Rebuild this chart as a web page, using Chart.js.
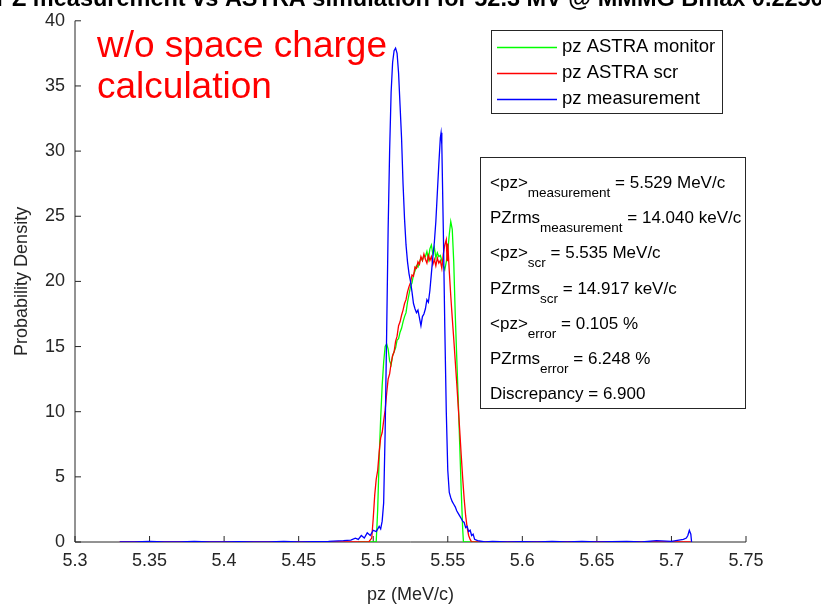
<!DOCTYPE html>
<html>
<head>
<meta charset="utf-8">
<script src="https://cdn.jsdelivr.net/npm/chart.js@4"></script>
<style>
  body { margin: 0; background: #fff; }
  canvas { display: block; }
</style>
</head>
<body>
<canvas id="chartPz" width="821" height="610"></canvas>
<script>
// data
const xTicks = [5.3, 5.35, 5.4, 5.45, 5.5, 5.55, 5.6, 5.65, 5.7, 5.75];
const xTickLabels = ["5.3", "5.35", "5.4", "5.45", "5.5", "5.55", "5.6", "5.65", "5.7", "5.75"];
const yTicks = [0, 5, 10, 15, 20, 25, 30, 35, 40];
const yTickLabels = ["0", "5", "10", "15", "20", "25", "30", "35", "40"];

const pzMonitor = [5.490, 5.500, 5.502, 5.503, 5.504, 5.505, 5.506, 5.507, 5.508, 5.509, 5.510,
  5.511, 5.512, 5.513, 5.514, 5.515, 5.516, 5.517, 5.518, 5.519, 5.520, 5.521, 5.522, 5.523,
  5.524, 5.525, 5.526, 5.527, 5.528, 5.529, 5.530, 5.531, 5.532, 5.533, 5.534, 5.535, 5.536,
  5.537, 5.538, 5.539, 5.540, 5.541, 5.542, 5.543, 5.544, 5.545, 5.546, 5.547, 5.548, 5.549,
  5.550, 5.551, 5.552, 5.553, 5.554, 5.555, 5.556, 5.557, 5.558, 5.559, 5.560, 5.5605, 5.570];
const pdMonitor = [0, 0, 0, 2.5, 6.5, 9.5, 12.0, 13.8, 15.0, 15.2, 14.8,
  13.9, 13.6, 14.3, 14.6, 14.9, 15.5, 15.6, 16.1, 16.4, 16.9, 17.3, 17.6, 18.4,
  19.0, 19.6, 19.9, 20.5, 20.8, 21.2, 21.1, 21.5, 21.8, 21.6, 22.0, 21.9, 22.3,
  21.7, 22.5, 22.8, 22.1, 22.6, 21.8, 22.2, 21.9, 22.0, 21.6, 21.2, 20.9, 21.5,
  22.3, 23.6, 24.6, 24.0, 21.5, 17.5, 14.2, 11.0, 7.5, 4.0, 1.0, 0, 0];

const pzScr = [5.330, 5.400, 5.450, 5.490, 5.497, 5.499, 5.500, 5.501, 5.502, 5.503, 5.504,
  5.505, 5.506, 5.507, 5.508, 5.509, 5.510, 5.511, 5.512, 5.513, 5.514, 5.515, 5.516, 5.517,
  5.518, 5.519, 5.520, 5.521, 5.522, 5.523, 5.524, 5.525, 5.526, 5.527, 5.528, 5.529, 5.530,
  5.531, 5.532, 5.533, 5.534, 5.535, 5.536, 5.537, 5.538, 5.539, 5.540, 5.541, 5.542, 5.543,
  5.544, 5.545, 5.546, 5.547, 5.548, 5.549, 5.5495, 5.550, 5.551, 5.552, 5.553, 5.554, 5.555,
  5.556, 5.557, 5.558, 5.559, 5.560, 5.561, 5.562, 5.563, 5.564, 5.565, 5.566, 5.600, 5.650,
  5.700, 5.713];
const pdScr = [0, 0, 0, 0, 0, 0.3, 1.8, 3.6, 4.8, 5.5, 6.9,
  8.0, 8.4, 9.3, 10.1, 11.4, 12.5, 12.9, 13.7, 14.3, 14.6, 15.4, 15.8, 16.6,
  16.9, 17.4, 17.8, 18.3, 18.6, 19.2, 19.6, 19.9, 20.5, 20.4, 21.1, 21.0, 21.5,
  21.3, 21.9, 21.6, 22.1, 21.7, 21.4, 22.0, 21.6, 21.9, 21.3, 21.7, 21.2, 21.8,
  21.4, 21.6, 21.0, 22.1, 22.8, 23.2, 21.6, 22.9, 20.8, 18.9, 17.2, 15.6, 13.9,
  12.2, 10.4, 8.6, 6.7, 4.9, 3.3, 2.0, 1.1, 0.5, 0.2, 0, 0, 0.03,
  0, 0];

const pzMeas = [5.330, 5.340, 5.350, 5.360, 5.370, 5.380, 5.390, 5.400, 5.410, 5.420, 5.430,
  5.440, 5.450, 5.460, 5.470, 5.480, 5.485, 5.488, 5.490, 5.492, 5.494, 5.496, 5.498, 5.500,
  5.502, 5.504, 5.505, 5.506, 5.507, 5.508, 5.509, 5.510, 5.511, 5.512, 5.513, 5.514, 5.515,
  5.516, 5.517, 5.518, 5.519, 5.520, 5.521, 5.522, 5.523, 5.524, 5.525, 5.526, 5.527, 5.528,
  5.529, 5.530, 5.531, 5.532, 5.533, 5.534, 5.535, 5.536, 5.537, 5.538, 5.539, 5.540, 5.541,
  5.542, 5.543, 5.544, 5.545, 5.5455, 5.546, 5.547, 5.548, 5.549, 5.550, 5.551, 5.552, 5.553,
  5.554, 5.555, 5.556, 5.557, 5.558, 5.559, 5.560, 5.561, 5.562, 5.563, 5.564, 5.565, 5.566,
  5.567, 5.568, 5.570, 5.575, 5.580, 5.590, 5.600, 5.610, 5.620, 5.630, 5.640, 5.650, 5.660,
  5.670, 5.680, 5.690, 5.700, 5.705, 5.708, 5.710, 5.711, 5.712, 5.713, 5.7135];
const pdMeas = [0, 0, 0.05, 0, 0, 0.04, 0, 0, 0.03, 0, 0,
  0.05, 0, 0.03, 0.05, 0.1, 0.15, 0.3, 0.2, 0.5, 0.3, 0.7, 0.5, 0.9,
  0.8, 1.2, 1.0, 1.6, 3.0, 8.5, 16.0, 24.0, 30.0, 34.5, 36.8, 37.7, 37.9,
  37.5, 36.0, 33.5, 31.0, 27.5, 24.8, 22.8, 21.5, 20.6, 20.0, 19.2, 18.3, 17.9,
  17.6, 17.8, 17.2, 16.6, 17.3, 17.5, 17.9, 18.6, 18.4, 19.3, 20.6, 21.9, 23.0,
  24.6, 26.8, 29.0, 31.0, 31.4, 30.5, 24.0, 16.5, 10.0, 5.5, 3.8, 3.4, 3.1,
  2.9, 2.7, 2.4, 2.2, 2.0, 1.8, 1.6, 1.5, 1.1, 1.2, 0.8, 0.9, 0.5,
  0.6, 0.2, 0.1, 0, 0.05, 0, 0.03, 0, 0.04, 0, 0.05, 0, 0.03,
  0.05, 0, 0.1, 0.05, 0.15, 0.2, 0.3, 0.5, 0.9, 0.6, 0];

const seriesNames = ["pz ASTRA monitor", "pz ASTRA scr", "pz measurement"];
const seriesColors = ["#00ff00", "#ff0000", "#0000ff"];

const statsRows = [
  ["<pz>", "measurement", " = 5.529 MeV/c"],
  ["PZrms", "measurement", " = 14.040 keV/c"],
  ["<pz>", "scr", " = 5.535 MeV/c"],
  ["PZrms", "scr", " = 14.917 keV/c"],
  ["<pz>", "error", " = 0.105 %"],
  ["PZrms", "error", " = 6.248 %"],
  ["Discrepancy = 6.900", "", ""]
];

const FONT = "'Liberation Sans', Arial, Helvetica, sans-serif";
const AXIS = "#262626";

function toPoints(xs, ys) {
  return xs.map((x, i) => ({ x: x, y: ys[i] }));
}

// axes, inward ticks, legend box, stats box, annotation
const decor = {
  id: "decor",
  beforeDatasetsDraw(chart) {
    const ctx = chart.ctx;
    const xs = chart.scales.x, ys = chart.scales.y;
    const a = chart.chartArea;
    ctx.save();
    ctx.strokeStyle = AXIS;
    ctx.lineWidth = 1;
    ctx.beginPath();
    ctx.moveTo(a.left, a.bottom);
    ctx.lineTo(a.right, a.bottom);
    ctx.moveTo(a.left, a.bottom);
    ctx.lineTo(a.left, a.top);
    xTicks.forEach(v => {
      const px = xs.getPixelForValue(v);
      ctx.moveTo(px, a.bottom);
      ctx.lineTo(px, a.bottom - 6);
    });
    yTicks.forEach(v => {
      const py = ys.getPixelForValue(v);
      ctx.moveTo(a.left, py);
      ctx.lineTo(a.left + 6, py);
    });
    ctx.stroke();
    ctx.restore();
  },
  afterDatasetsDraw(chart) {
    const ctx = chart.ctx;
    const a = chart.chartArea;
    ctx.save();

    // title (cut at the top edge)
    ctx.fillStyle = "#000";
    ctx.font = "bold 23.5px " + FONT;
    ctx.textAlign = "center";
    ctx.textBaseline = "alphabetic";
    ctx.fillText("PZ measurement vs ASTRA simulation for 52.3 MV @ MMMG Bmax 0.2250", 410, 6);

    // axis titles
    ctx.fillStyle = AXIS;
    ctx.font = "18px " + FONT;
    ctx.textBaseline = "middle";
    ctx.fillText("pz (MeV/c)", (a.left + a.right) / 2, 595);
    ctx.save();
    ctx.translate(22, (a.top + a.bottom) / 2);
    ctx.rotate(-Math.PI / 2);
    ctx.fillText("Probability Density", 0, 0);
    ctx.restore();

    // red annotation
    ctx.fillStyle = "#ff0000";
    ctx.font = "37px " + FONT;
    ctx.textAlign = "left";
    ctx.textBaseline = "alphabetic";
    ctx.fillText("w/o space charge", 97, 57);
    ctx.fillText("calculation", 97, 98);

    // legend
    ctx.fillStyle = "#fff";
    ctx.fillRect(491, 30, 231, 83);
    ctx.strokeStyle = "#262626";
    ctx.lineWidth = 1;
    ctx.strokeRect(491.5, 30.5, 231, 83);
    ctx.font = "18.5px " + FONT;
    ctx.textBaseline = "middle";
    seriesNames.forEach((name, i) => {
      const y = 47 + i * 26;
      ctx.strokeStyle = seriesColors[i];
      ctx.lineWidth = 1.5;
      ctx.beginPath();
      ctx.moveTo(497, y + 0.5);
      ctx.lineTo(557, y + 0.5);
      ctx.stroke();
      ctx.fillStyle = "#000";
      ctx.fillText(name, 562, y);
    });

    // stats box
    ctx.fillStyle = "#fff";
    ctx.fillRect(480, 157, 265, 251);
    ctx.strokeStyle = "#262626";
    ctx.lineWidth = 1;
    ctx.strokeRect(480.5, 157.5, 265, 251);
    ctx.textBaseline = "alphabetic";
    statsRows.forEach((row, i) => {
      const base = 188 + i * 35.2;
      let x = 490;
      ctx.fillStyle = "#000";
      ctx.font = "17px " + FONT;
      ctx.fillText(row[0], x, base);
      x += ctx.measureText(row[0]).width;
      if (row[1]) {
        ctx.font = "13.5px " + FONT;
        ctx.fillText(row[1], x, base + 9);
        x += ctx.measureText(row[1]).width;
        ctx.font = "17px " + FONT;
        ctx.fillText(row[2], x, base);
      }
    });

    ctx.restore();
  }
};

new Chart(document.getElementById("chartPz"), {
  type: "line",
  data: {
    datasets: [
      { label: seriesNames[0], data: toPoints(pzMonitor, pdMonitor), borderColor: seriesColors[0], order: 3 },
      { label: seriesNames[1], data: toPoints(pzScr, pdScr), borderColor: seriesColors[1], order: 2 },
      { label: seriesNames[2], data: toPoints(pzMeas, pdMeas), borderColor: seriesColors[2], order: 1 }
    ]
  },
  options: {
    responsive: false,
    animation: false,
    layout: { padding: { left: 0, right: 75, top: 11, bottom: 0 } },
    elements: {
      point: { radius: 0 },
      line: { borderWidth: 1.3, tension: 0 }
    },
    plugins: {
      legend: { display: false },
      tooltip: { enabled: false }
    },
    scales: {
      x: {
        type: "linear",
        min: 5.3,
        max: 5.75,
        afterFit: s => { s.height = 68; },
        afterBuildTicks: s => { s.ticks = xTicks.map(v => ({ value: v })); },
        grid: { display: false, drawTicks: false },
        border: { display: false },
        ticks: {
          autoSkip: false,
          maxRotation: 0,
          padding: 8,
          color: AXIS,
          font: { family: FONT, size: 18 },
          callback: (v, i) => xTickLabels[i]
        }
      },
      y: {
        type: "linear",
        min: 0,
        max: 40,
        afterFit: s => { s.width = 75; },
        afterBuildTicks: s => { s.ticks = yTicks.map(v => ({ value: v })); },
        grid: { display: false, drawTicks: false },
        border: { display: false },
        ticks: {
          padding: 10,
          color: AXIS,
          font: { family: FONT, size: 18 },
          callback: (v, i) => yTickLabels[i]
        }
      }
    }
  },
  plugins: [decor]
});
</script>
</body>
</html>
